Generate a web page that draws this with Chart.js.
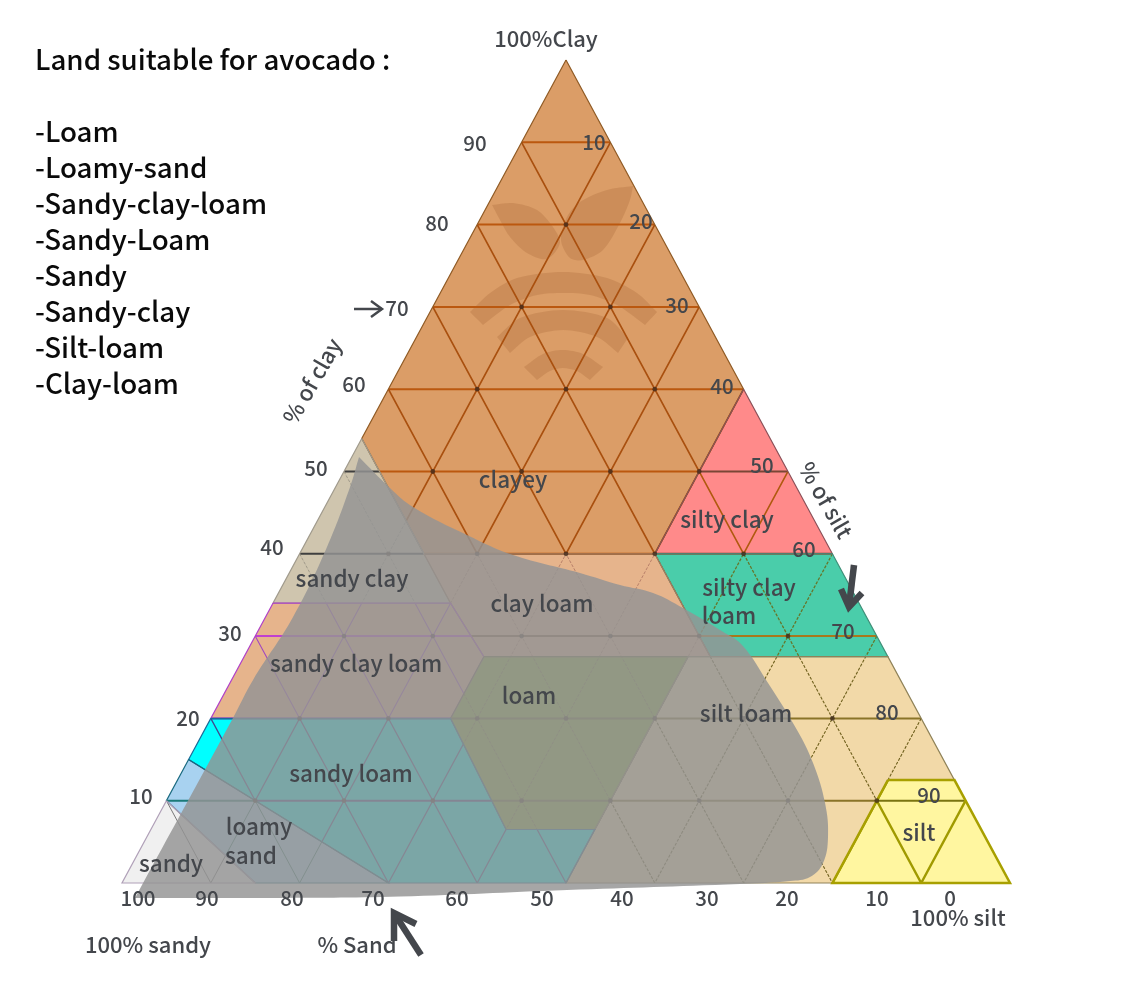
<!DOCTYPE html>
<html>
<head>
<meta charset="utf-8">
<title>Soil texture triangle</title>
<script src="https://cdn.jsdelivr.net/npm/chart.js@4"></script>
<style>
  html, body { margin: 0; padding: 0; background: #fff; }
  canvas { display: block; }
</style>
</head>
<body>
<canvas id="soil" width="1147" height="982"></canvas>
<script>
// grid levels, percent
const gridLevels = [10, 20, 30, 40, 50, 60, 70, 80, 90];

// texture classes, corner by corner: percent clay and percent silt
const clayeyClay = [100, 60, 40, 40, 54];
const clayeySilt = [0, 40, 40, 14, 0];
const siltyClayClay = [60, 40, 40];
const siltyClaySilt = [40, 60, 40];
const siltyClayLoamClay = [40, 40, 27.5, 27.5];
const siltyClayLoamSilt = [40, 60, 72.5, 52.5];
const sandyClayClay = [54, 34, 34];
const sandyClaySilt = [0, 20, 0];
const clayLoamClay = [40, 40, 27.5, 27.5, 34];
const clayLoamSilt = [14, 40, 52.5, 27, 20];
const sandyClayLoamClay = [34, 34, 27.5, 20, 20];
const sandyClayLoamSilt = [0, 20, 27, 27, 0];
const loamClay = [27.5, 27.5, 6.5, 6.5, 20];
const loamSilt = [27, 50, 50, 40, 27];
const siltLoamClay = [27.5, 27.5, 12.5, 12.5, 0, 0, 6.5, 27.5];
const siltLoamSilt = [52.5, 72.5, 87.5, 80, 80, 50, 50, 50];
const siltClay = [12.5, 12.5, 0, 0];
const siltSilt = [80, 87.5, 100, 80];
const sandyLoamClay = [20, 20, 6.5, 6.5, 0, 0, 15];
const sandyLoamSilt = [0, 27, 40, 50, 50, 30, 0];
const loamySandClay = [15, 0, 0, 10];
const loamySandSilt = [0, 30, 15, 0];
const sandClay = [10, 0, 0];
const sandSilt = [0, 15, 0];

// suitable zone outline (first and last corners are sharp, hence the repeats)
const zoneClay = [51.76, 51.76, 48, 45.69, 42.28, 39.85, 37.67, 36.21, 35.24, 33.41, 30.74, 28.92, 24.3, 18.59, 14.58, 9.72, 5.59, 2.43, 0.73, 0.24, -0.12, -0.85, -1.64, -1.82, -1.82, -1.82, 20.05, 24.67, 32.32, 40.83, 48.12, 51.76, 51.76];
const zoneSilt = [0.81, 0.81, 6.18, 9.93, 17.71, 24.11, 32.74, 37.98, 42.18, 46.47, 51.97, 55.36, 60.6, 66.72, 70.53, 74.31, 76.71, 77.73, 77.11, 75.11, 69.65, 50.54, 32.13, 17.24, 2.37, 2.37, 2.47, 2.42, 3.1, 2.67, 1.62, 0.81, 0.81];

// faint emblem inside the clayey class: two leaves and three arcs
const leafLeftClay = [82.38, 82.62, 81.77, 79.71, 77.76, 75.82, 76.55, 78.49, 80.56];
const leafLeftSilt = [0.48, 2.72, 5.85, 8.68, 10.44, 9.95, 7.33, 4.45, 2.29];
const leafRightClay = [84.69, 84.2, 82.75, 80.92, 78.13, 75.94, 75.7, 76.91, 80.19, 82.99];
const leafRightSilt = [15.2, 12.52, 10.2, 9.65, 10.37, 12.48, 14.06, 15.71, 15.98, 15.71];
const arcTopClay = [69.38, 69.38, 71.69, 73.51, 74.24, 73.51, 71.69, 69.38, 69.38, 67.8, 67.8, 70.23, 71.45, 71.69, 71.45, 70.23, 67.8, 67.8, 69.38, 69.38];
const arcTopSilt = [4.5, 4.5, 5.6, 7.73, 12.54, 17.86, 22.15, 25.56, 25.56, 25, 25, 20.63, 16.98, 13.82, 11, 8.58, 6.75, 6.75, 4.5, 4.5];
const arcMidClay = [66.34, 66.34, 68.65, 69.62, 68.65, 66.22, 66.22, 64.4, 64.4, 66.34, 67.19, 66.34, 64.4, 64.4, 66.34, 66.34];
const arcMidSilt = [9.06, 9.06, 10.5, 14.85, 20.3, 23.87, 23.87, 23.66, 23.66, 20.32, 16.07, 12.78, 11.49, 11.49, 9.06, 9.06];
const arcLowClay = [62.7, 62.7, 64.28, 64.76, 64.28, 62.7, 62.7, 61.12, 61.12, 62.21, 62.58, 62.21, 61.12, 61.12, 62.7, 62.7];
const arcLowSilt = [13.92, 13.92, 15.27, 17.28, 19.77, 22.82, 22.82, 22.14, 22.14, 20.13, 18.37, 17.09, 16.17, 16.17, 13.92, 13.92];

// text
const noteTitle = 'Land suitable for avocado :';
const noteItems = ['-Loam', '-Loamy-sand', '-Sandy-clay-loam', '-Sandy-Loam', '-Sandy', '-Sandy-clay', '-Silt-loam', '-Clay-loam'];
const clayTicks = ['90', '80', '70', '60', '50', '40', '30', '20', '10'];
const siltTicks = ['10', '20', '30', '40', '50', '60', '70', '80', '90'];
const sandTicks = ['100', '90', '80', '70', '60', '50', '40', '30', '20', '10', '0'];

const clayTickX = [475, 437, 397, 354, 316, 272, 230, 188, 141];
const clayTickY = [143, 223, 308, 384, 468, 547, 633, 718, 796];
const siltTickX = [594, 641, 677, 722, 762, 804, 843, 887, 929];
const siltTickY = [142, 221, 305, 386, 465, 549, 631, 712, 795];
const sandTickX = [138, 207, 292, 373, 457, 542, 622, 707, 787, 877, 950];
const sandTickY = 898;

const GREY_TEXT = '#44474c';
const FONT = '"Noto Sans CJK SC", "Noto Sans", sans-serif';

const classLabels = [
  ['clayey', 513, 479], ['silty clay', 727, 519], ['silty clay', 749, 587], ['loam', 729, 615],
  ['sandy clay', 352, 578], ['clay loam', 542, 603], ['sandy clay loam', 356, 663], ['loam', 529, 695],
  ['silt loam', 746, 713], ['sandy loam', 351, 773], ['loamy', 259, 826], ['sand', 251, 855],
  ['sandy', 171, 863], ['silt', 919, 832]
];
const cornerLabels = [
  ['100%Clay', 546, 39, 0], ['100% sandy', 148, 945, 0], ['% Sand', 357, 945, 0],
  ['100% silt', 958, 918, 0], ['% of clay', 312, 381, -60], ['% of silt', 826, 500, 60]
];

// ternary position -> value on the two linear scales
function toPoint(clay, silt) {
  return { x: silt + clay / 2, y: clay };
}

function polygon(clays, silts) {
  const pts = clays.map((c, i) => toPoint(c, silts[i]));
  pts.push(pts[0]);
  return pts;
}

function gridHorizontal() {
  const pts = [];
  gridLevels.forEach(l => {
    pts.push(toPoint(l, 0), toPoint(l, 100 - l), { x: NaN, y: NaN });
  });
  return pts;
}

function gridDiagonal() {
  const pts = [];
  gridLevels.forEach(l => {
    pts.push(toPoint(100 - l, l), toPoint(0, l), { x: NaN, y: NaN });
    pts.push(toPoint(100 - l, 0), toPoint(0, 100 - l), { x: NaN, y: NaN });
  });
  return pts;
}

function gridVertices() {
  const pts = [];
  gridLevels.forEach(c => {
    gridLevels.forEach(s => {
      if (c + s < 100) pts.push(toPoint(c, s));
    });
  });
  return pts;
}

const DOTTED = [3, 1.5];

const classes = [
  { clay: clayeyClay, silt: clayeySilt, fill: '#db9d67', edge: '#8f5a24', h: '#bb580f', d: '#a9500f', dw: 1.7 },
  { clay: siltyClayClay, silt: siltyClaySilt, fill: '#ff8a8a', edge: '#8a5058', h: '#7a4636', d: '#b0590f', dw: 1.6 },
  { clay: siltyClayLoamClay, silt: siltyClayLoamSilt, fill: '#4acdaa', edge: '#3f8f78', h: '#a8781c', d: '#66762a', dw: 1.3, dash: DOTTED },
  { clay: sandyClayClay, silt: sandyClaySilt, fill: '#cfc5ae', edge: '#a09a8c', h: '#3f3f3f', d: '#a09a8a', dw: 1, dash: DOTTED },
  { clay: clayLoamClay, silt: clayLoamSilt, fill: '#e6b48c', edge: '#a87858', h: '#8a5a3a', d: '#b8806a', dw: 1, dash: DOTTED },
  { clay: sandyClayLoamClay, silt: sandyClayLoamSilt, fill: '#e6b48c', edge: '#b040c8', h: '#c040d0', d: '#a048c0', dw: 1.1 },
  { clay: loamClay, silt: loamSilt, fill: '#88aa38', edge: '#6c6c38', h: '#6c6c30', d: '#77773a', dw: 1, dash: DOTTED },
  { clay: siltLoamClay, silt: siltLoamSilt, fill: '#f2d9a8', edge: '#8f8258', h: '#8a7428', d: '#6e5f1c', dw: 1.1, dash: DOTTED },
  { clay: siltClay, silt: siltSilt, fill: '#fff6a0', edge: '#a8a000', h: '#7a7410', d: '#a09a00', dw: 2.4, edgeWidth: 2.5 },
  { clay: sandyLoamClay, silt: sandyLoamSilt, fill: '#00ffff', edge: '#1a6a98', h: '#3a3f90', d: '#3f4a90', dw: 1.3 },
  { clay: loamySandClay, silt: loamySandSilt, fill: '#a8d2f0', edge: '#1a6a80', h: '#1a7a78', d: '#2a7a70', dw: 1 },
  { clay: sandClay, silt: sandSilt, fill: '#f0f0f0', edge: '#b0a0b8', h: '#666666', d: '#777777', dw: 1 }
];

function area(data, color) {
  return { data, showLine: true, fill: 'shape', backgroundColor: color, borderWidth: 0, pointRadius: 0, tension: 0 };
}

// layers listed bottom to top
const layers = [];
classes.forEach(k => layers.push(area(polygon(k.clay, k.silt), k.fill)));

const emblem = 'rgba(150, 85, 40, 0.22)';
[[leafLeftClay, leafLeftSilt], [leafRightClay, leafRightSilt], [arcTopClay, arcTopSilt], [arcMidClay, arcMidSilt], [arcLowClay, arcLowSilt]]
  .forEach(([c, s]) => layers.push(Object.assign(area(polygon(c, s), emblem), { tension: 0.3 })));

classes.forEach(k => {
  const clipTo = polygon(k.clay, k.silt);
  layers.push({ data: gridHorizontal(), showLine: true, borderColor: k.h, borderWidth: 2, pointRadius: 0, fill: false, spanGaps: false, clipTo });
  layers.push({ data: gridDiagonal(), showLine: true, borderColor: k.d, borderWidth: k.dw, borderDash: k.dash || [], pointRadius: 0, fill: false, spanGaps: false, clipTo });
});
classes.forEach(k => {
  layers.push({ data: polygon(k.clay, k.silt), showLine: true, borderColor: k.edge, borderWidth: k.edgeWidth || 1.2, pointRadius: 0, fill: false });
});
layers.push({ data: gridVertices(), showLine: false, pointRadius: 2.4, pointBackgroundColor: 'rgba(60, 40, 30, 0.75)', pointBorderWidth: 0 });

const zone = area(polygon(zoneClay, zoneSilt), 'rgba(148, 148, 148, 0.83)');
zone.tension = 0.4;
layers.push(zone);

// grid lines stay inside their own texture class
const classClip = {
  id: 'classClip',
  beforeDatasetDraw(chart, args) {
    const clipTo = chart.data.datasets[args.index].clipTo;
    if (!clipTo) return;
    const { ctx, scales } = chart;
    ctx.save();
    ctx.beginPath();
    clipTo.forEach((p, i) => {
      const px = scales.x.getPixelForValue(p.x);
      const py = scales.y.getPixelForValue(p.y);
      if (i === 0) ctx.moveTo(px, py); else ctx.lineTo(px, py);
    });
    ctx.closePath();
    ctx.clip();
  },
  afterDatasetDraw(chart, args) {
    if (chart.data.datasets[args.index].clipTo) chart.ctx.restore();
  }
};

function stroke(ctx, pts, width, color) {
  ctx.beginPath();
  pts.forEach((p, i) => (i === 0 ? ctx.moveTo(p[0], p[1]) : ctx.lineTo(p[0], p[1])));
  ctx.lineWidth = width;
  ctx.strokeStyle = color;
  ctx.stroke();
}

const annotations = {
  id: 'annotations',
  afterDatasetsDraw(chart) {
    const ctx = chart.ctx;
    ctx.save();
    ctx.textAlign = 'center';
    ctx.textBaseline = 'middle';
    ctx.fillStyle = GREY_TEXT;

    ctx.font = '500 20.5px ' + FONT;
    clayTicks.forEach((t, i) => ctx.fillText(t, clayTickX[i], clayTickY[i]));
    siltTicks.forEach((t, i) => ctx.fillText(t, siltTickX[i], siltTickY[i]));
    sandTicks.forEach((t, i) => ctx.fillText(t, sandTickX[i], sandTickY));

    ctx.font = '500 22.5px ' + FONT;
    classLabels.forEach(([t, x, y]) => ctx.fillText(t, x, y));

    ctx.font = '500 22px ' + FONT;
    cornerLabels.forEach(([t, x, y, deg]) => {
      ctx.save();
      ctx.translate(x, y);
      ctx.rotate(deg * Math.PI / 180);
      ctx.fillText(t, 0, 0);
      ctx.restore();
    });

    // arrows beside the three scales
    ctx.lineCap = 'butt';
    ctx.lineJoin = 'miter';
    stroke(ctx, [[354, 309], [382, 309]], 2.5, GREY_TEXT);
    stroke(ctx, [[371, 301], [382, 309], [371, 317]], 2.5, GREY_TEXT);
    stroke(ctx, [[854, 565], [849, 606]], 6.5, GREY_TEXT);
    stroke(ctx, [[841, 589], [849, 607], [862, 593]], 6.5, GREY_TEXT);
    stroke(ctx, [[421, 955], [394, 913]], 6.5, GREY_TEXT);
    stroke(ctx, [[394, 941], [394, 913], [416, 924]], 6.5, GREY_TEXT);

    ctx.textAlign = 'left';
    ctx.fillStyle = '#0a0a0a';
    ctx.font = '500 27.7px ' + FONT;
    ctx.fillText(noteTitle, 35, 59);
    noteItems.forEach((t, i) => ctx.fillText(t, 35, 131 + i * 36));
    ctx.restore();
  }
};

new Chart(document.getElementById('soil'), {
  type: 'scatter',
  data: { datasets: layers.slice().reverse() },
  plugins: [classClip, annotations],
  options: {
    responsive: false,
    animation: false,
    layout: { padding: 0, autoPadding: false },
    plugins: { legend: { display: false }, tooltip: { enabled: false }, title: { display: false } },
    scales: {
      x: { type: 'linear', display: false, min: -13.739, max: 115.428 },
      y: { type: 'linear', display: false, min: -12.03, max: 107.29 }
    }
  }
});
</script>
</body>
</html>
